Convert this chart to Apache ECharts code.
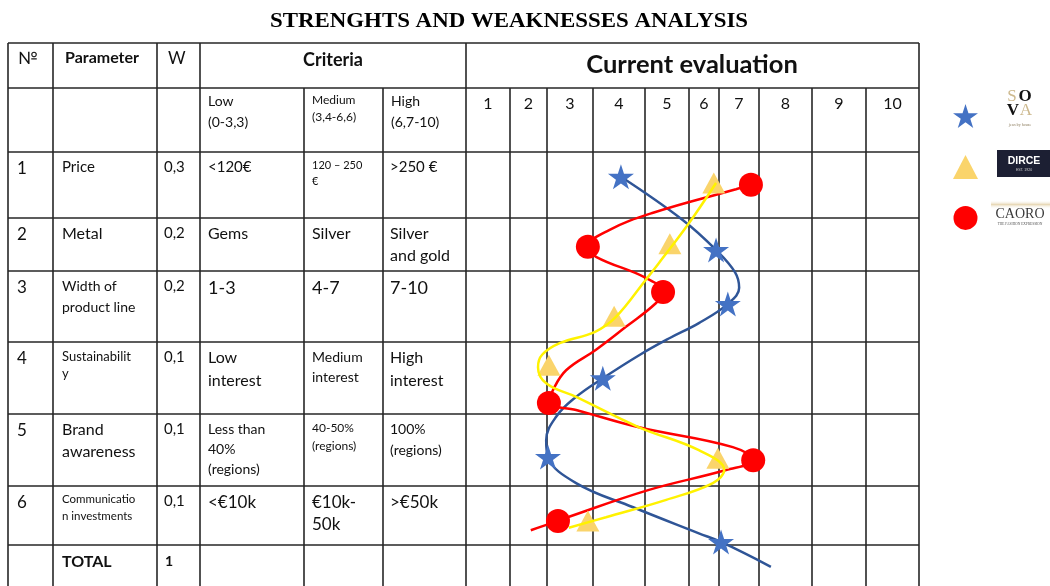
<!DOCTYPE html>
<html>
<head>
<meta charset="utf-8">
<title>Strenghts and weaknesses analysis</title>
<script src="https://cdn.jsdelivr.net/npm/echarts@6/dist/echarts.min.js"></script>
<style>
  html, body { margin: 0; padding: 0; background: #ffffff; }
  #chart { width: 1050px; height: 586px; }
</style>
</head>
<body>
<div id="chart"></div>
<script>
// ---- table content ----
const rowNumbers = ['1', '2', '3', '4', '5', '6'];
const parameters = ['Price', 'Metal', 'Width of\nproduct line', 'Sustainabilit\ny', 'Brand\nawareness', 'Communicatio\nn investments'];
const weights = ['0,3', '0,2', '0,2', '0,1', '0,1', '0,1'];
const lowCriteria = ['<120€', 'Gems', '1-3', 'Low\ninterest', 'Less than\n40%\n(regions)', '<€10k'];
const mediumCriteria = ['120 – 250\n€', 'Silver', '4-7', 'Medium\ninterest', '40-50%\n(regions)', '€10k-\n50k'];
const highCriteria = ['>250 €', 'Silver\nand gold', '7-10', 'High\ninterest', '100%\n(regions)', '>€50k'];
const criteriaLevels = ['Low\n(0-3,3)', 'Medium\n(3,4-6,6)', 'High\n(6,7-10)'];
const evaluationTicks = ['1', '2', '3', '4', '5', '6', '7', '8', '9', '10'];
const totalLabel = 'TOTAL';
const totalWeight = '1';

// ---- evaluation of each brand (score on the 1–10 scale, vertical position in row units) ----
const brands = ['SOVA', 'DIRCE', 'CAORO'];
const sovaScores  = [3.92, 6.02, 6.28, 3.52, 2.31, 6.13];
const sovaRowPos  = [0.40, 1.58, 2.45, 3.65, 4.92, 6.29];
const dirceScores = [5.97, 5.00, 3.77, 2.33, 6.06, 3.19];
const dirceRowPos = [0.50, 1.48, 2.65, 3.44, 4.94, 5.95];
const caoroScores = [6.79, 3.19, 4.85, 2.33, 6.84, 2.53];
const caoroRowPos = [0.53, 1.53, 2.26, 4.05, 4.97, 5.95];

// ---- hand-drawn profile curves [score, row position] ----
const sovaCurve = [[3.92,0.40],[5.29,1.10],[6.02,1.58],[6.44,1.94],[6.53,2.19],[6.28,2.45],[5.64,2.76],[5.00,3.00],[4.34,3.27],[3.52,3.65],[2.93,3.95],[2.49,4.27],[2.27,4.65],[2.31,4.92],[2.93,5.34],[4.19,5.73],[5.64,6.15],[6.13,6.29],[7.23,6.69]];
const dirceCurve = [[6.02,0.50],[5.42,1.15],[4.76,1.79],[4.47,2.06],[3.81,2.66],[3.35,2.90],[2.58,3.08],[2.18,3.27],[2.09,3.47],[2.27,3.73],[2.93,3.95],[4.32,4.44],[5.64,4.81],[6.20,5.13],[5.95,5.34],[4.92,5.61],[3.59,5.89],[2.77,6.06]];
const caoroCurve = [[6.79,0.53],[6.46,0.60],[4.63,0.98],[3.66,1.26],[3.19,1.53],[3.37,1.69],[4.47,2.03],[4.85,2.26],[4.69,2.44],[4.03,2.82],[3.37,3.19],[2.71,3.52],[2.42,3.84],[2.33,4.05],[2.93,4.16],[4.32,4.44],[6.39,4.76],[6.84,4.97],[6.24,5.13],[4.54,5.45],[2.71,5.90],[2.53,5.95],[1.93,6.10]];

// ---- layout ----
const FONT = 'Lato, "Open Sans", sans-serif';
const SERIF = '"Liberation Serif", "DejaVu Serif", serif';
const tableLeft = 8, tableRight = 919;
const colEdges = [8, 53, 157, 200, 304, 383, 466];
const evalEdges = [466, 510, 547, 593, 645, 689, 719, 759, 812, 866, 919];
const rowEdges = [43, 88, 152, 218, 271, 342, 414, 486, 545];
const tableBottom = 600;
const LINE = '#262626';

// font size / line height per table cell (rows 1..6)
const paramStyle  = [[15,20],[16,20],[14,21],[13,17],[16,22],[11.5,17]];
const weightStyle = [[15,20],[15,20],[15,20],[15,20],[15,20],[15,20]];
const lowStyle    = [[15,20],[16,20],[18,22],[16,23],[14,20],[17,22]];
const mediumStyle = [[11,16],[16,20],[18,22],[14,20],[12,18],[17,22]];
const highStyle   = [[15,20],[16,22],[18,22],[16,23],[14,21],[17,22]];
const numberStyle = [17, 20];

const STAR = 'path://M50,0L61.2,34.5L97.6,34.5L68.2,55.9L79.4,90.5L50,69.1L20.6,90.5L31.8,55.9L2.4,34.5L38.8,34.5Z';
const COLORS = {
  sovaMark: '#4472C4', sovaLine: '#2F5597',
  dirceMark: '#FAD46B', dirceLine: '#FFF200',
  caoroMark: '#FF0000', caoroLine: '#FF0000'
};

const elements = [];

function hLine(y, x1, x2) {
  elements.push({ type: 'line', z: 1, silent: true,
    shape: { x1: x1, y1: y, x2: x2, y2: y },
    style: { stroke: LINE, lineWidth: 1.6 } });
}
function vLine(x, y1, y2) {
  elements.push({ type: 'line', z: 1, silent: true,
    shape: { x1: x, y1: y1, x2: x, y2: y2 },
    style: { stroke: LINE, lineWidth: 1.6 } });
}
function label(text, x, y, opts) {
  opts = opts || {};
  elements.push({ type: 'text', z: 5, silent: true, x: x, y: y,
    scaleX: opts.scaleX || 1,
    style: {
      text: text,
      font: (opts.weight || 'normal') + ' ' + (opts.size || 15) + 'px ' + (opts.family || FONT),
      fill: opts.color || '#111111',
      align: opts.align || 'left',
      verticalAlign: 'middle'
    } });
}
// multi-line cell text: first line centred a little below the row top
function cell(text, x, rowTop, style, opts) {
  const size = style[0], lh = style[1];
  text.split('\n').forEach(function (line, i) {
    label(line, x, rowTop + 8 + size / 2 + i * lh, Object.assign({ size: size }, opts || {}));
  });
}

// grid lines of the table
rowEdges.forEach(function (y) { hLine(y, tableLeft, tableRight); });
[8, 53, 157, 200, 466, 919].forEach(function (x) { vLine(x, rowEdges[0], tableBottom); });
[304, 383].forEach(function (x) { vLine(x, rowEdges[1], tableBottom); });
evalEdges.slice(1, -1).forEach(function (x) { vLine(x, rowEdges[1], tableBottom); });

// header
label('№', 18, 59, { size: 17 });
label('Parameter', 65, 58, { size: 16, weight: 'bold' });
label('W', 168, 59, { size: 17 });
label('Criteria', 333, 60, { size: 18, weight: 'bold', align: 'center' });
label('Current evaluation', 692, 65, { size: 25.5, weight: 'bold', align: 'center' });

criteriaLevels.forEach(function (t, i) {
  const x = colEdges[3 + i] + 8;
  const st = i === 1 ? [12, 17] : [14, 21];
  t.split('\n').forEach(function (line, j) {
    label(line, x, (i === 1 ? 100 : 101) + j * st[1], { size: st[0] });
  });
});
evaluationTicks.forEach(function (t, i) {
  label(t, (evalEdges[i] + evalEdges[i + 1]) / 2, 104, { size: 16, align: 'center' });
});

// criterion rows
rowNumbers.forEach(function (n, i) {
  const top = rowEdges[2 + i];
  cell(n, 17, top, numberStyle);
  cell(parameters[i], 62, top, paramStyle[i]);
  cell(weights[i], 164, top, weightStyle[i]);
  cell(lowCriteria[i], 208, top, lowStyle[i]);
  cell(mediumCriteria[i], 312, top, mediumStyle[i]);
  cell(highCriteria[i], 390, top, highStyle[i]);
});
label(totalLabel, 62, 562, { size: 16, weight: 'bold' });
label(totalWeight, 165, 561, { size: 14, weight: 'bold' });

// title
label('STRENGHTS AND WEAKNESSES ANALYSIS', 509, 22, { size: 21, weight: 'bold', family: SERIF, align: 'center', color: '#000000', scaleX: 1.09 });

// brand marks next to the legend symbols
label('S', 1012, 97, { size: 17, family: SERIF, color: '#CDB98E', align: 'center' });
label('O', 1025, 97, { size: 17, family: SERIF, weight: 'bold', color: '#111111', align: 'center' });
label('V', 1013, 111, { size: 17, family: SERIF, weight: 'bold', color: '#111111', align: 'center' });
label('A', 1026, 111, { size: 17, family: SERIF, color: '#CDB98E', align: 'center' });
label('jewelry house', 1020, 125, { size: 4, family: SERIF, color: '#8a7a5a', align: 'center' });

elements.push({ type: 'rect', z: 4, silent: true,
  shape: { x: 997, y: 150, width: 53, height: 27 },
  style: { fill: '#1C1F33' } });
label('DIRCE', 1024, 161, { size: 10.5, weight: 'bold', family: '"Liberation Sans", sans-serif', color: '#ffffff', align: 'center' });
label('EST. 1920', 1024, 170, { size: 3.5, family: '"Liberation Sans", sans-serif', color: '#cfcfcf', align: 'center' });

elements.push({ type: 'rect', z: 4, silent: true,
  shape: { x: 991, y: 200, width: 59, height: 9 },
  style: { fill: new echarts.graphic.LinearGradient(0, 0, 0, 1, [
    { offset: 0, color: 'rgba(255,255,255,0)' },
    { offset: 0.5, color: '#E8D9B8' },
    { offset: 1, color: 'rgba(255,255,255,0)' }]) } });
label('CAORO', 1020, 214, { size: 14, family: SERIF, color: '#3a3a3a', align: 'center' });
label('THE FASHION EXPRESSION', 1020, 224, { size: 3.5, family: SERIF, color: '#555555', align: 'center' });

function zip(xs, ys) { return xs.map(function (x, i) { return [x, ys[i]]; }); }

const chart = echarts.init(document.getElementById('chart'), null, { renderer: 'canvas' });
chart.setOption({
  animation: false,
  backgroundColor: '#ffffff',
  grid: { left: 466, top: 152, width: 453, height: 434, containLabel: false },
  xAxis: { type: 'value', min: 0.5, max: 10.5, show: false },
  yAxis: { type: 'value', min: 0, max: 7, inverse: true, show: false },
  legend: {
    orient: 'vertical', left: 948, top: 99,
    itemWidth: 25, itemHeight: 24, itemGap: 27,
    selectedMode: false, formatter: function () { return ''; },
    data: [
      { name: brands[0], icon: STAR },
      { name: brands[1], icon: 'triangle' },
      { name: brands[2], icon: 'circle' }
    ]
  },
  graphic: { elements: elements },
  series: [
    { name: brands[0] + ' profile', type: 'line', data: sovaCurve, smooth: 0.4, showSymbol: false, silent: true, z: 3,
      lineStyle: { color: COLORS.sovaLine, width: 2.5 } },
    { name: brands[2] + ' profile', type: 'line', data: caoroCurve, smooth: 0.4, showSymbol: false, silent: true, z: 3,
      lineStyle: { color: COLORS.caoroLine, width: 2.5 } },
    { name: brands[1], type: 'scatter', data: zip(dirceScores, dirceRowPos), symbol: 'triangle', symbolSize: [23, 21], z: 4,
      itemStyle: { color: COLORS.dirceMark, opacity: 1 } },
    { name: brands[1] + ' profile', type: 'line', data: dirceCurve, smooth: 0.4, showSymbol: false, silent: true, z: 5,
      lineStyle: { color: COLORS.dirceLine, width: 2.5 } },
    { name: brands[0], type: 'scatter', data: zip(sovaScores, sovaRowPos), symbol: STAR, symbolSize: [26, 25], z: 6,
      itemStyle: { color: COLORS.sovaMark, opacity: 1 } },
    { name: brands[2], type: 'scatter', data: zip(caoroScores, caoroRowPos), symbol: 'circle', symbolSize: 24, z: 6,
      itemStyle: { color: COLORS.caoroMark, opacity: 1 } }
  ]
});
</script>
</body>
</html>
